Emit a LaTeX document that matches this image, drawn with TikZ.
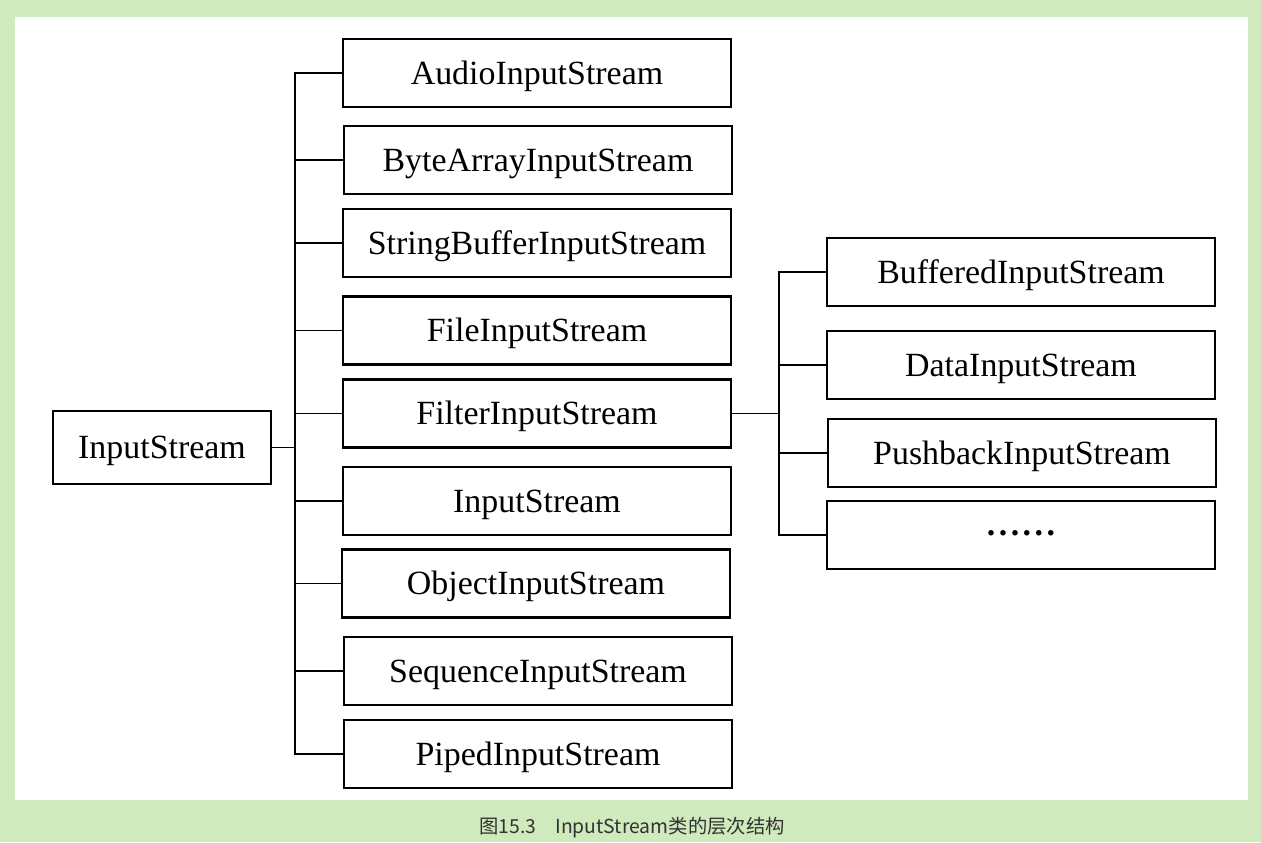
\documentclass[tikz,border=0pt]{standalone}
\usepackage{fontspec}
\setmainfont{Liberation Serif}
\newfontfamily\cjk{Noto Sans CJK SC}
\definecolor{bggreen}{RGB}{207,234,188}
\definecolor{captxt}{RGB}{50,50,50}
\begin{document}
\begin{tikzpicture}[x=0.02cm,y=-0.02cm,
  cls/.style={draw=black, line width=1.3pt, fill=white, minimum width=7.76cm, minimum height=1.36cm, inner sep=0pt, text height=14pt, text depth=1.2pt, font=\fontsize{19.3}{22}\selectfont},
  rootbox/.style={cls, minimum width=4.36cm, minimum height=1.46cm},
  dotsbox/.style={cls, text height=0pt, text depth=0pt},
  conn/.style={draw=black, line width=1.1pt}]
\useasboundingbox (0,0) rectangle (1261,842);
\fill[bggreen] (0,0) rectangle (1261,842);
\fill[white] (15,17) rectangle (1248,800);

\node[rootbox] (root) at (162,447.5) {InputStream};
\node[cls] (b1) at (537,73) {AudioInputStream};
\node[cls] (b2) at (538,160) {ByteArrayInputStream};
\node[cls] (b3) at (537,243) {StringBufferInputStream};
\node[cls] (b4) at (537,330.5) {FileInputStream};
\node[cls] (b5) at (537,413.5) {FilterInputStream};
\node[cls] (b6) at (537,501) {InputStream};
\node[cls] (b7) at (536,583.5) {ObjectInputStream};
\node[cls] (b8) at (538,671) {SequenceInputStream};
\node[cls] (b9) at (538,754) {PipedInputStream};

\node[cls] (r1) at (1021,272) {BufferedInputStream};
\node[cls] (r2) at (1021,365) {DataInputStream};
\node[cls] (r3) at (1022,453) {PushbackInputStream};
\node[dotsbox] (r4) at (1021,535) {\bfseries .\kern2pt.\kern2pt.\kern2pt.\kern2pt.\kern2pt.};

\coordinate (j1) at (295,447.5);
\coordinate (j2) at (779,413.5);
\foreach \n in {b1,b2,b3,b4,b5,b6,b7,b8,b9}
  \draw[conn] (root.east) -- (j1) |- (\n.west);
\foreach \n in {r1,r2,r3,r4}
  \draw[conn] (b5.east) -- (j2) |- (\n.west);

\node[font=\cjk\fontsize{11}{13}\selectfont, text=captxt] (cap) at (632,828) {图15.3\quad InputStream类的层次结构};
\end{tikzpicture}
\end{document}
